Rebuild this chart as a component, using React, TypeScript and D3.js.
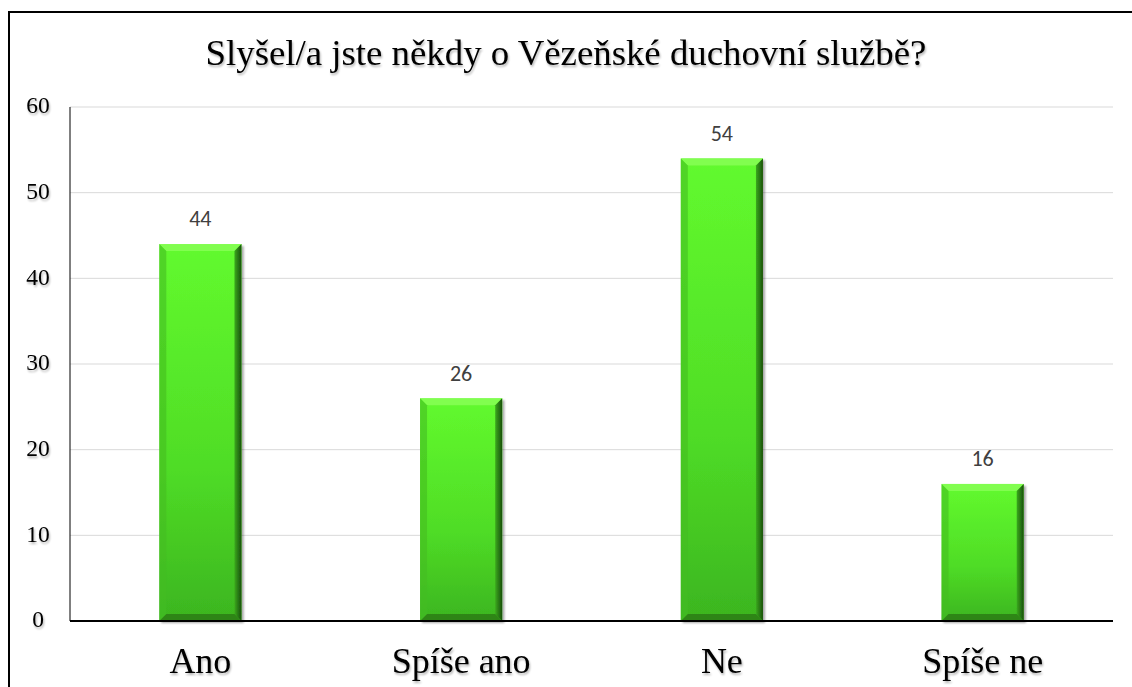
import React from 'react';
import * as d3 from 'd3';

const categories = ['Ano', 'Spíše ano', 'Ne', 'Spíše ne'];
const values = [44, 26, 54, 16];
const yTicks = [0, 10, 20, 30, 40, 50, 60];
const title = 'Slyšel/a jste někdy o Vězeňské duchovní službě?';

const W = 1132;
const H = 687;
const margin = { top: 107, right: 19, bottom: 66, left: 70 };
const serif = "'Liberation Serif', 'Times New Roman', serif";

export default function App() {
    const w = W - margin.left - margin.right;
    const h = H - margin.top - margin.bottom;

    const x = d3.scaleBand<string>()
        .domain(categories)
        .range([0, w])
        .paddingInner(0.685)
        .paddingOuter(0.3425);

    const y = d3.scaleLinear()
        .domain([0, 60])
        .range([h, 0]);

    const bw = x.bandwidth();
    const bev = 7;

    return (
        <svg width={W} height={H} style={{ position: 'absolute', left: 0, top: 0 }}>
            <defs>
                <linearGradient id="face" x1="0" y1="0" x2="0" y2="1">
                    <stop offset="0" stopColor="#62fa2e" />
                    <stop offset="0.6" stopColor="#4fdc26" />
                    <stop offset="1" stopColor="#3cb51f" />
                </linearGradient>
                <linearGradient id="rightEdge" x1="0" y1="0" x2="1" y2="0">
                    <stop offset="0" stopColor="#3aa81d" />
                    <stop offset="1" stopColor="#1a500d" />
                </linearGradient>
                <filter id="shadow" x="-10%" y="-10%" width="130%" height="130%">
                    <feGaussianBlur in="SourceAlpha" stdDeviation="1.2" />
                    <feOffset dx="1.5" dy="1.5" result="b" />
                    <feComponentTransfer><feFuncA type="linear" slope="0.35" /></feComponentTransfer>
                    <feMerge><feMergeNode /><feMergeNode in="SourceGraphic" /></feMerge>
                </filter>
                <filter id="tshadow" x="-10%" y="-20%" width="130%" height="150%">
                    <feGaussianBlur in="SourceAlpha" stdDeviation="1" />
                    <feOffset dx="1" dy="1.5" />
                    <feComponentTransfer><feFuncA type="linear" slope="0.3" /></feComponentTransfer>
                    <feMerge><feMergeNode /><feMergeNode in="SourceGraphic" /></feMerge>
                </filter>
            </defs>
            <rect x={0} y={0} width={W} height={H} fill="#ffffff" />
            {/* outer frame */}
            <rect x={9} y={12} width={W + 20} height={H + 20} fill="none" stroke="#000" strokeWidth={2} />

            <text x={566} y={57} textAnchor="middle" dominantBaseline="middle" filter="url(#tshadow)"
                fontFamily={serif} fontSize={36.8} fill="#000">
                {title}
            </text>

            <g transform={`translate(${margin.left}, ${margin.top})`}>
                {/* grid */}
                {yTicks.filter((t) => t > 0).map((t) => (
                    <line key={t} x1={0} x2={w} y1={y(t)} y2={y(t)} stroke="#d9d9d9" strokeWidth={1} />
                ))}
                <line x1={0} x2={0} y1={0} y2={h} stroke="#000" strokeWidth={1} />

                {/* y labels */}
                {yTicks.map((t) => (
                    <text key={t} x={-32} y={y(t) + 1} textAnchor="middle" dominantBaseline="middle" filter="url(#tshadow)"
                        fontFamily={serif} fontSize={23.5} fill="#000">
                        {t}
                    </text>
                ))}

                {/* bars */}
                {categories.map((c, i) => {
                    const x0 = x(c) ?? 0;
                    const x1 = x0 + bw;
                    const y0 = y(values[i]);
                    const y1 = y(0);
                    return (
                        <g key={c} filter="url(#shadow)">
                            <rect x={x0} y={y0} width={bw} height={y1 - y0} fill="url(#face)" />
                            {/* top bevel */}
                            <polygon points={`${x0},${y0} ${x1},${y0} ${x1 - bev},${y0 + bev} ${x0 + bev},${y0 + bev}`} fill="#8cff5c" opacity={0.75} />
                            {/* left bevel */}
                            <polygon points={`${x0},${y0} ${x0 + bev},${y0 + bev} ${x0 + bev},${y1 - bev} ${x0},${y1}`} fill="#44bd22" opacity={0.6} />
                            {/* right bevel */}
                            <polygon points={`${x1},${y0} ${x1},${y1} ${x1 - bev},${y1 - bev} ${x1 - bev},${y0 + bev}`} fill="url(#rightEdge)" />
                            {/* bottom bevel */}
                            <polygon points={`${x0},${y1} ${x1},${y1} ${x1 - bev},${y1 - bev} ${x0 + bev},${y1 - bev}`} fill="#2a7d16" opacity={0.85} />
                        </g>
                    );
                })}

                {/* value labels */}
                {categories.map((c, i) => (
                    <text key={c} x={(x(c) ?? 0) + bw / 2} y={y(values[i]) - 23} textAnchor="middle" dominantBaseline="middle"
                        fontFamily="Carlito, 'Open Sans', 'Noto Sans', sans-serif" fontSize={22} fill="#404040">
                        {values[i]}
                    </text>
                ))}

                {/* baseline */}
                <line x1={0} x2={w} y1={h} y2={h} stroke="#000" strokeWidth={2} />

                {/* x labels */}
                {categories.map((c) => (
                    <text key={c} x={(x(c) ?? 0) + bw / 2} y={h + 44} textAnchor="middle" dominantBaseline="middle" filter="url(#tshadow)"
                        fontFamily={serif} fontSize={36} fill="#000">
                        {c}
                    </text>
                ))}
            </g>
        </svg>
    );
}
